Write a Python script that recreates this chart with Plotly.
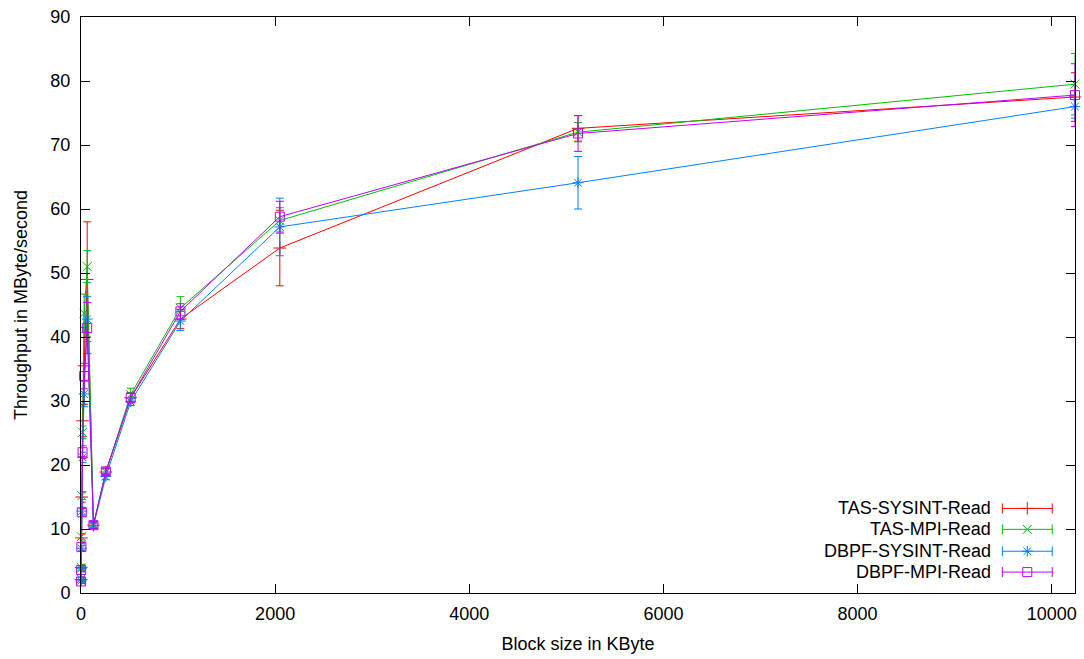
import plotly.graph_objects as go

block_kb = [1, 2, 4, 8, 16, 32, 64, 128, 256, 512, 1024, 2048, 5120, 10240]

series_names = ["TAS-SYSINT-Read", "TAS-MPI-Read", "DBPF-SYSINT-Read", "DBPF-MPI-Read"]

tas_sysint = [2.1, 4.0, 8.6, 15.0, 26.9, 35.5, 49.0, 10.6, 18.9, 30.5, 42.8, 53.9, 72.6, 77.5]
tas_sysint_err = [0.3, 0.4, 0.6, 0.8, 2.5, 6.0, 9.0, 0.5, 0.6, 0.8, 1.5, 5.9, 2.0, 3.8]

tas_mpi = [2.2, 4.0, 8.8, 15.2, 25.1, 43.7, 51.0, 10.7, 18.9, 31.0, 44.5, 58.2, 72.0, 79.5]
tas_mpi_err = [0.3, 0.4, 0.5, 0.6, 1.0, 3.0, 2.5, 0.4, 0.5, 1.0, 1.8, 2.0, 1.5, 4.8]

dbpf_sysint = [1.9, 3.8, 7.0, 12.8, 21.2, 31.1, 42.8, 10.5, 18.2, 29.9, 42.5, 57.2, 64.1, 76.0]
dbpf_sysint_err = [0.3, 0.4, 0.4, 0.6, 0.8, 2.0, 3.5, 0.4, 0.5, 0.6, 1.5, 4.5, 4.1, 1.8]

dbpf_mpi = [1.8, 3.6, 7.2, 12.6, 22.0, 33.9, 41.4, 10.6, 19.0, 30.5, 44.0, 58.8, 71.8, 77.8]
dbpf_mpi_err = [0.3, 0.3, 0.5, 0.6, 1.0, 2.0, 4.0, 0.5, 0.5, 0.7, 1.2, 2.4, 2.8, 4.9]

values = [tas_sysint, tas_mpi, dbpf_sysint, dbpf_mpi]
errors = [tas_sysint_err, tas_mpi_err, dbpf_sysint_err, dbpf_mpi_err]
colors = ["#ff0000", "#00c000", "#0080ff", "#c000ff"]
symbols = ["cross-thin-open", "x-thin-open", "asterisk-open", "square-open"]
msizes = [9, 9, 9, 9]

x_ticks = [0, 2000, 4000, 6000, 8000, 10000]
y_ticks = [0, 10, 20, 30, 40, 50, 60, 70, 80, 90]

FONT = "Liberation Sans, Arial, sans-serif"
FS = 18

fig = go.Figure()

for name, v, e, c, s, ms in zip(series_names, values, errors, colors, symbols, msizes):
    fig.add_trace(go.Scatter(
        x=block_kb, y=v, mode="lines+markers", name=name,
        line=dict(color=c, width=1),
        marker=dict(symbol=s, size=ms, color=c, line=dict(color=c, width=1)),
        error_y=dict(type="data", array=e, visible=True, color=c, thickness=1, width=4),
        showlegend=False, cliponaxis=False,
    ))

# custom gnuplot-like key (bottom right)
key_y = [0.1468, 0.1105, 0.0725, 0.0363]
for name, c, s, ms, ky in zip(series_names, colors, symbols, msizes, key_y):
    fig.add_trace(go.Scatter(
        x=[0.952], y=[ky], xaxis="x2", yaxis="y2", mode="markers",
        marker=dict(symbol=s, size=ms, color=c, line=dict(color=c, width=1)),
        error_x=dict(type="constant", value=0.0251, visible=True, color=c, thickness=1, width=5),
        showlegend=False, hoverinfo="skip",
    ))
    fig.add_annotation(
        x=0.9177, y=ky, xref="paper", yref="paper", text=name, showarrow=False,
        xanchor="right", yanchor="middle", font=dict(family=FONT, size=FS, color="#000000"),
    )

axis_common = dict(
    showgrid=False, zeroline=False, showline=True, linecolor="#000000", linewidth=1,
    mirror="allticks", ticks="inside", ticklen=9, tickcolor="#000000", tickwidth=1,
    tickfont=dict(family=FONT, size=FS, color="#000000"),
)

fig.update_layout(
    width=1084, height=659,
    margin=dict(l=81, r=7, t=14, b=66),
    paper_bgcolor="white", plot_bgcolor="white",
    font=dict(family=FONT, size=FS, color="#000000"),
    xaxis=dict(range=[0, 10240], tickvals=x_ticks, ticktext=[str(t) for t in x_ticks],
               ticklabelstandoff=4,
               title=dict(text="Block size in KByte", font=dict(family=FONT, size=FS), standoff=14),
               **axis_common),
    yaxis=dict(range=[0, 90], tickvals=y_ticks, ticktext=[str(t) for t in y_ticks],
               ticklabelstandoff=6,
               title=dict(text="Throughput in MByte/second", font=dict(family=FONT, size=FS), standoff=18),
               **axis_common),
    xaxis2=dict(range=[0, 1], overlaying="x", visible=False, fixedrange=True),
    yaxis2=dict(range=[0, 1], overlaying="y", visible=False, fixedrange=True),
)

fig.write_html("out.html")
